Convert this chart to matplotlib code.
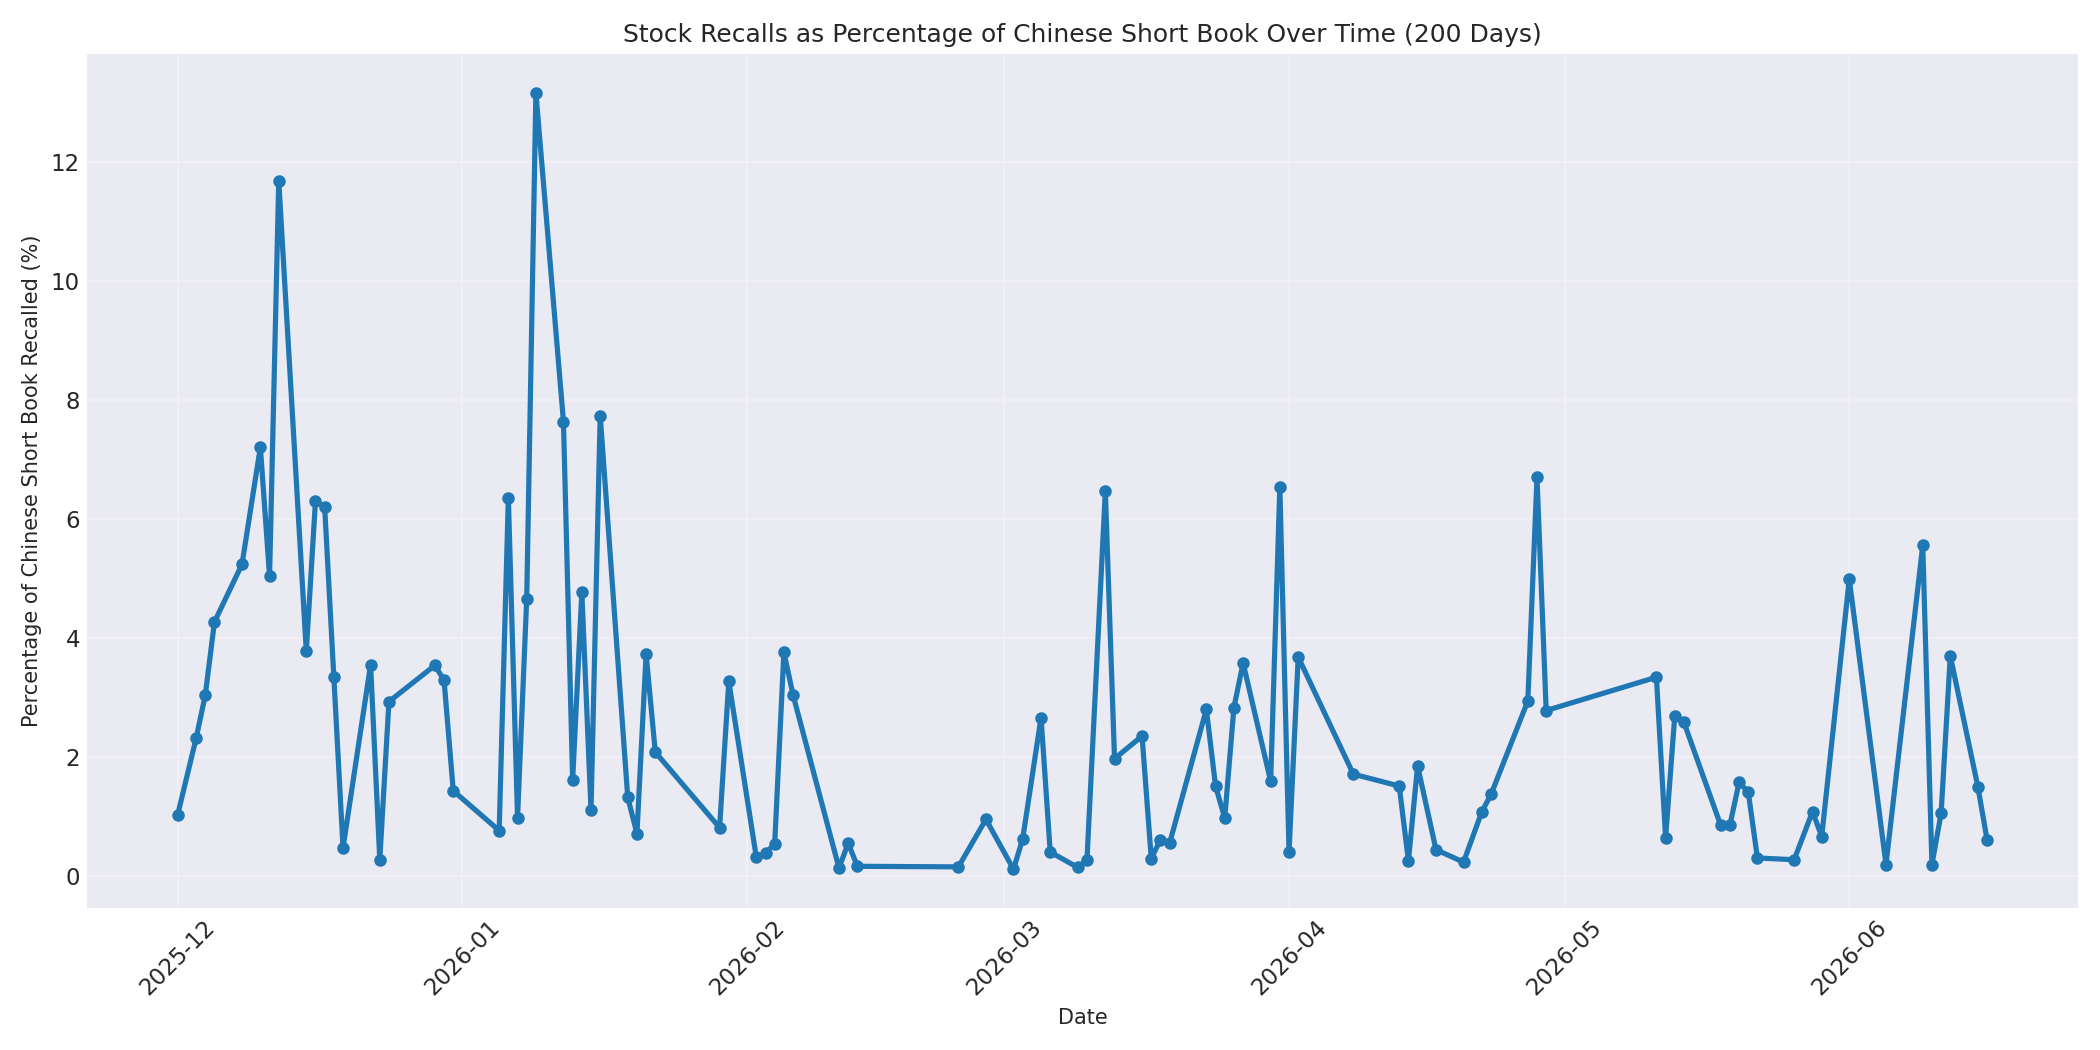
import matplotlib
matplotlib.use("Agg")
import matplotlib.pyplot as plt
import matplotlib.dates as mdates
import pandas as pd

# Days after 2025-12-01 for each observation
day_offsets = [
    0, 2, 3, 4, 7, 9, 10, 11, 14, 15, 16, 17, 18, 21, 22, 23, 28, 29, 30,
    35, 36, 37, 38, 39, 42, 43, 44, 45, 46, 49, 50, 51, 52, 59, 60, 63, 64,
    65, 66, 67, 72, 73, 74, 85, 88, 91, 92, 94, 95, 98, 99, 101, 102, 105,
    106, 107, 108, 112, 113, 114, 115, 116, 119, 120, 121, 122, 128, 133,
    134, 135, 137, 140, 142, 143, 147, 148, 149, 161, 162, 163, 164, 168,
    169, 170, 171, 172, 176, 178, 179, 182, 186, 190, 191, 192, 193, 196, 197,
]

recall_pct = [
    1.03, 2.31, 3.04, 4.27, 5.24, 7.21, 5.04, 11.69, 3.78, 6.31, 6.20, 3.34,
    0.47, 3.55, 0.27, 2.93, 3.54, 3.29, 1.43,
    0.76, 6.36, 0.98, 4.66, 13.17, 7.64, 1.61, 4.77, 1.11, 7.74, 1.32, 0.71,
    3.73, 2.08, 0.81, 3.27, 0.31, 0.38,
    0.54, 3.76, 3.04, 0.13, 0.55, 0.16, 0.15, 0.95, 0.11, 0.62, 2.66, 0.40,
    0.14, 0.27, 6.47, 1.97, 2.35,
    0.29, 0.61, 0.55, 2.80, 1.51, 0.97, 2.83, 3.58, 1.59, 6.54, 0.40, 3.68,
    1.71, 1.51,
    0.25, 1.85, 0.44, 0.23, 1.08, 1.37, 2.94, 6.70, 2.78, 3.34, 0.64, 2.69,
    2.58, 0.85,
    0.85, 1.57, 1.41, 0.30, 0.27, 1.08, 0.66, 4.99, 0.19, 5.56, 0.19, 1.05,
    3.70, 1.50, 0.61,
]

dates = pd.Timestamp("2025-12-01") + pd.to_timedelta(day_offsets, unit="D")

plt.style.use("seaborn-v0_8-darkgrid")
plt.rcParams["font.family"] = ["DejaVu Sans"]
fig, ax = plt.subplots(figsize=(14, 7), dpi=150)

ax.plot(dates, recall_pct, marker="o", linewidth=2.5, markersize=5, color="#1f77b4")

ax.set_title("Stock Recalls as Percentage of Chinese Short Book Over Time (200 Days)", fontsize=12)
ax.set_xlabel("Date", fontsize=10)
ax.set_ylabel("Percentage of Chinese Short Book Recalled (%)", fontsize=10)

ax.xaxis.set_major_locator(mdates.MonthLocator())
ax.xaxis.set_major_formatter(mdates.DateFormatter("%Y-%m"))
plt.setp(ax.get_xticklabels(), rotation=45)
ax.tick_params(labelsize=11)
ax.grid(True, alpha=0.3)

plt.tight_layout()
plt.savefig("out.png", dpi=150)
plt.close()
